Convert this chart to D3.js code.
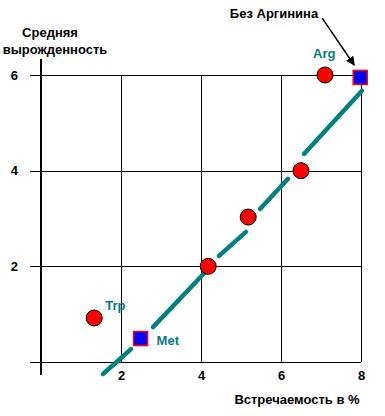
<!DOCTYPE html>
<html>
<head>
<meta charset="utf-8">
<script src="https://cdn.jsdelivr.net/npm/d3@7"></script>
<style>
  body { margin: 0; background: #fff; }
  text { font-family: "Liberation Sans", Arial, sans-serif; font-weight: bold; }
</style>
</head>
<body>
<svg id="chart" width="385" height="416"></svg>
<script>
// values
const xTicks = [2, 4, 6, 8];
const yTicks = [0, 2, 4, 6];

const circles = [
  { name: 'Trp', x: 1.33, y: 0.92 },
  { name: '', x: 4.18, y: 2.0 },
  { name: '', x: 5.18, y: 3.03 },
  { name: '', x: 6.5, y: 4.0 },
  { name: 'Arg', x: 7.1, y: 6.0 }
];
const squares = [
  { name: 'Met', x: 2.49, y: 0.49 },
  { name: '', x: 7.98, y: 5.95 }
];
// hand drawn dashed trend line, one entry per dash
const trendDashes = [
  [1.55, -0.25, 2.25, 0.27],
  [2.8, 0.73, 4.3, 2.05],
  [4.45, 2.22, 5.125, 2.72],
  [5.475, 3.2, 6.175, 3.83],
  [6.575, 4.35, 8.025, 5.67]
];
const arrowFrom = [7.03, 7.19];
const arrowTo = [7.83, 6.21];

const svg = d3.select('#chart');

const x = d3.scaleLinear().domain([0, 8]).range([41, 361]);
const y = d3.scaleLinear().domain([0, 6]).range([362, 75]);

svg.append('defs').append('marker')
  .attr('id', 'head')
  .attr('viewBox', '0 0 10 10')
  .attr('refX', 9).attr('refY', 5)
  .attr('markerWidth', 9).attr('markerHeight', 9)
  .attr('markerUnits', 'userSpaceOnUse')
  .attr('orient', 'auto')
  .append('path')
  .attr('d', 'M0,0L10,5L0,10Z')
  .attr('fill', '#000');

// horizontal grid + y labels
const yAxis = d3.axisLeft(y)
  .tickValues(yTicks)
  .tickSize(x(8) - x(0) + 11)
  .tickPadding(12)
  .tickFormat(d => d === 0 ? '' : d);
const gy = svg.append('g')
  .attr('transform', 'translate(' + x(8) + ',0)')
  .call(yAxis);

// vertical grid + x labels
const xAxis = d3.axisBottom(x)
  .tickValues(xTicks)
  .tickSize(y(0) - y(6))
  .tickPadding(9);
const gx = svg.append('g')
  .attr('transform', 'translate(0,' + y(6) + ')')
  .call(xAxis);

[gx, gy].forEach(g => {
  g.select('.domain').remove();
  g.selectAll('line').attr('stroke', '#000').attr('stroke-width', 1.2)
    .attr('shape-rendering', 'crispEdges');
  g.selectAll('text').attr('fill', '#000').style('font-size', '13px');
});

// y axis line, longer than the grid
svg.append('line')
  .attr('x1', x(0)).attr('x2', x(0))
  .attr('y1', y(6.33)).attr('y2', y(-0.27))
  .attr('stroke', '#000').attr('stroke-width', 1.2)
  .attr('shape-rendering', 'crispEdges');

// trend line
svg.append('g').selectAll('line')
  .data(trendDashes)
  .join('line')
  .attr('x1', d => x(d[0])).attr('y1', d => y(d[1]))
  .attr('x2', d => x(d[2])).attr('y2', d => y(d[3]))
  .attr('stroke', '#008080')
  .attr('stroke-width', 4.5)
  .attr('stroke-linecap', 'round');

svg.append('g').selectAll('circle')
  .data(circles)
  .join('circle')
  .attr('cx', d => x(d.x)).attr('cy', d => y(d.y))
  .attr('r', 8)
  .attr('fill', '#ff0000')
  .attr('stroke', '#000')
  .attr('stroke-width', 1);

svg.append('g').selectAll('rect')
  .data(squares)
  .join('rect')
  .attr('x', d => x(d.x) - 7).attr('y', d => y(d.y) - 7)
  .attr('width', 14).attr('height', 14)
  .attr('fill', '#0000ff')
  .attr('stroke', '#ff0000')
  .attr('stroke-width', 1.5);

// teal point names
const tealLabels = [
  { text: 'Trp', x: circles[0].x, y: circles[0].y, dx: 11, dy: -8 },
  { text: 'Met', x: squares[0].x, y: squares[0].y, dx: 16, dy: 6 },
  { text: 'Arg', x: circles[4].x, y: circles[4].y, dx: -12, dy: -17 }
];
svg.append('g').selectAll('text')
  .data(tealLabels)
  .join('text')
  .attr('x', d => x(d.x) + d.dx)
  .attr('y', d => y(d.y) + d.dy)
  .attr('fill', '#008080')
  .style('font-size', '13px')
  .text(d => d.text);

// titles
svg.append('text').attr('x', 50).attr('y', 37)
  .attr('text-anchor', 'middle').style('font-size', '13px')
  .text('Средняя');
svg.append('text').attr('x', 55).attr('y', 54)
  .attr('text-anchor', 'middle').style('font-size', '13px')
  .text('вырожденность');
svg.append('text').attr('x', 297).attr('y', 404)
  .attr('text-anchor', 'middle').style('font-size', '13px')
  .text('Встречаемость в %');
svg.append('text').attr('x', 274).attr('y', 18)
  .attr('text-anchor', 'middle').style('font-size', '13px')
  .text('Без Аргинина');

svg.append('line')
  .attr('x1', x(arrowFrom[0])).attr('y1', y(arrowFrom[1]))
  .attr('x2', x(arrowTo[0])).attr('y2', y(arrowTo[1]))
  .attr('stroke', '#000').attr('stroke-width', 1.5)
  .attr('marker-end', 'url(#head)');
</script>
</body>
</html>
